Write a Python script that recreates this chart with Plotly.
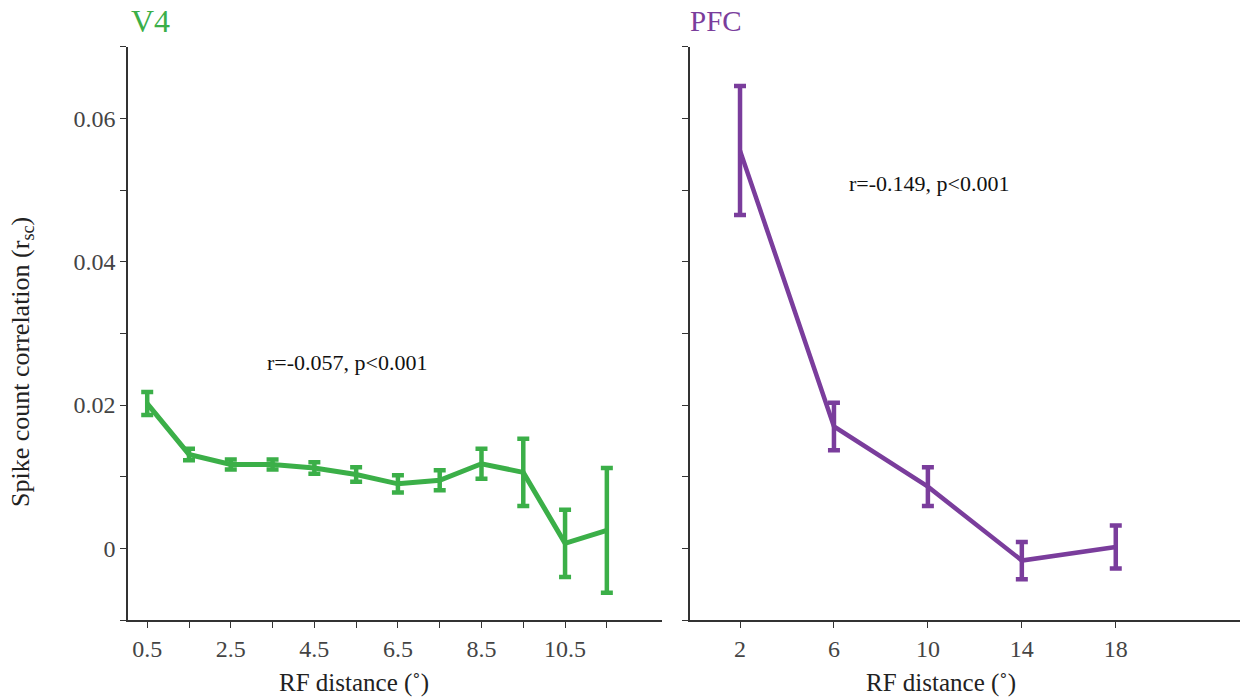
import plotly.graph_objects as go

# ---- data ----
v4_x = [0.5, 1.5, 2.5, 3.5, 4.5, 5.5, 6.5, 7.5, 8.5, 9.5, 10.5, 11.5]
v4_y = [0.0202, 0.0131, 0.0117, 0.0117, 0.0112, 0.0103, 0.0090, 0.0095, 0.0118, 0.0106, 0.0007, 0.0025]
v4_err = [0.0016, 0.0008, 0.0007, 0.0007, 0.0008, 0.0010, 0.0012, 0.0014, 0.0021, 0.0047, 0.0047, 0.0087]

pfc_x = [2, 6, 10, 14, 18]
pfc_y = [0.0555, 0.0170, 0.0086, -0.0017, 0.0002]
pfc_err = [0.0090, 0.0033, 0.0027, 0.0026, 0.0030]

v4_tickvals = [0.5, 2.5, 4.5, 6.5, 8.5, 10.5]
v4_ticktext = ["0.5", "2.5", "4.5", "6.5", "8.5", "10.5"]
v4_minor_ticks = [1.5, 3.5, 5.5, 7.5, 9.5, 11.5]
pfc_tickvals = [2, 6, 10, 14, 18]
pfc_ticktext = ["2", "6", "10", "14", "18"]
y_tickvals = [0, 0.02, 0.04, 0.06]
y_ticktext = ["0", "0.02", "0.04", "0.06"]
y_minor_ticks = [-0.01, 0.01, 0.03, 0.05, 0.07]

GREEN = "#3BAF48"
PURPLE = "#7A3D9C"
FONT = "Liberation Serif"
AX = "#333333"

fig = go.Figure()
fig.add_trace(go.Scatter(
    x=v4_x, y=v4_y, mode="lines", xaxis="x", yaxis="y",
    line=dict(color=GREEN, width=5),
    error_y=dict(type="data", array=v4_err, color=GREEN, thickness=4.5, width=6),
    showlegend=False))
fig.add_trace(go.Scatter(
    x=pfc_x, y=pfc_y, mode="lines", xaxis="x2", yaxis="y2",
    line=dict(color=PURPLE, width=4.5),
    error_y=dict(type="data", array=pfc_err, color=PURPLE, thickness=4.5, width=6),
    showlegend=False))

W, H = 1240, 698
ydom = [(H - 620) / H, (H - 46.7) / H]
common_axis = dict(showline=True, linecolor=AX, linewidth=1.5, ticks="outside",
                   ticklen=6, tickcolor=AX, tickwidth=1.2, showgrid=False,
                   zeroline=False, automargin=False,
                   tickfont=dict(family=FONT, size=24, color="#444444"))
minor_style = dict(ticks="outside", ticklen=6, tickcolor=AX, tickwidth=1.2, showgrid=False)

fig.update_layout(
    width=W, height=H, margin=dict(l=0, r=0, t=0, b=0, autoexpand=False),
    plot_bgcolor="white", paper_bgcolor="white",
    font=dict(family=FONT, color="#222222"),
    xaxis=dict(domain=[128 / W, 662 / W], range=[0.04, 12.82], tickmode="array",
               tickvals=v4_tickvals, ticktext=v4_ticktext, anchor="y",
               minor=dict(tickmode="array", tickvals=v4_minor_ticks, **minor_style),
               **common_axis),
    yaxis=dict(domain=ydom, range=[-0.01, 0.07], tickmode="array",
               tickvals=y_tickvals, ticktext=y_ticktext, anchor="x",
               minor=dict(tickmode="array", tickvals=y_minor_ticks, **minor_style),
               **common_axis),
    xaxis2=dict(domain=[690 / W, 1.0], range=[-0.13, 23.29], tickmode="array",
                tickvals=pfc_tickvals, ticktext=pfc_ticktext, anchor="y2", **common_axis),
    yaxis2=dict(domain=ydom, range=[-0.01, 0.07], tickmode="array",
                tickvals=y_tickvals, showticklabels=False, anchor="x2",
                minor=dict(tickmode="array", tickvals=y_minor_ticks, **minor_style),
                **common_axis),
)

ann = [
    dict(text="V4", x=129 / W, y=1 - 21 / H, xref="paper", yref="paper",
         xanchor="left", yanchor="middle", showarrow=False,
         font=dict(family=FONT, size=32, color=GREEN)),
    dict(text="PFC", x=688 / W, y=1 - 21 / H, xref="paper", yref="paper",
         xanchor="left", yanchor="middle", showarrow=False,
         font=dict(family=FONT, size=29, color=PURPLE)),
    dict(text="Spike count correlation (r<sub>sc</sub>)", x=22 / W, y=1 - 362 / H,
         xref="paper", yref="paper", textangle=-90, xanchor="center", yanchor="middle",
         showarrow=False, font=dict(family=FONT, size=26, color="#222222")),
    dict(text="RF distance (˚)", x=354 / W, y=1 - 683 / H, xref="paper", yref="paper",
         xanchor="center", yanchor="middle", showarrow=False,
         font=dict(family=FONT, size=25, color="#222222")),
    dict(text="RF distance (˚)", x=941 / W, y=1 - 683 / H, xref="paper", yref="paper",
         xanchor="center", yanchor="middle", showarrow=False,
         font=dict(family=FONT, size=25, color="#222222")),
    dict(text="r=-0.057, p<0.001", x=347.5 / W, y=1 - 362 / H, xref="paper", yref="paper",
         xanchor="center", yanchor="middle", showarrow=False,
         font=dict(family=FONT, size=22, color="#111111")),
    dict(text="r=-0.149, p<0.001", x=929 / W, y=1 - 183 / H, xref="paper", yref="paper",
         xanchor="center", yanchor="middle", showarrow=False,
         font=dict(family=FONT, size=22, color="#111111")),
]
fig.update_layout(annotations=ann)

fig.write_html("out.html")
